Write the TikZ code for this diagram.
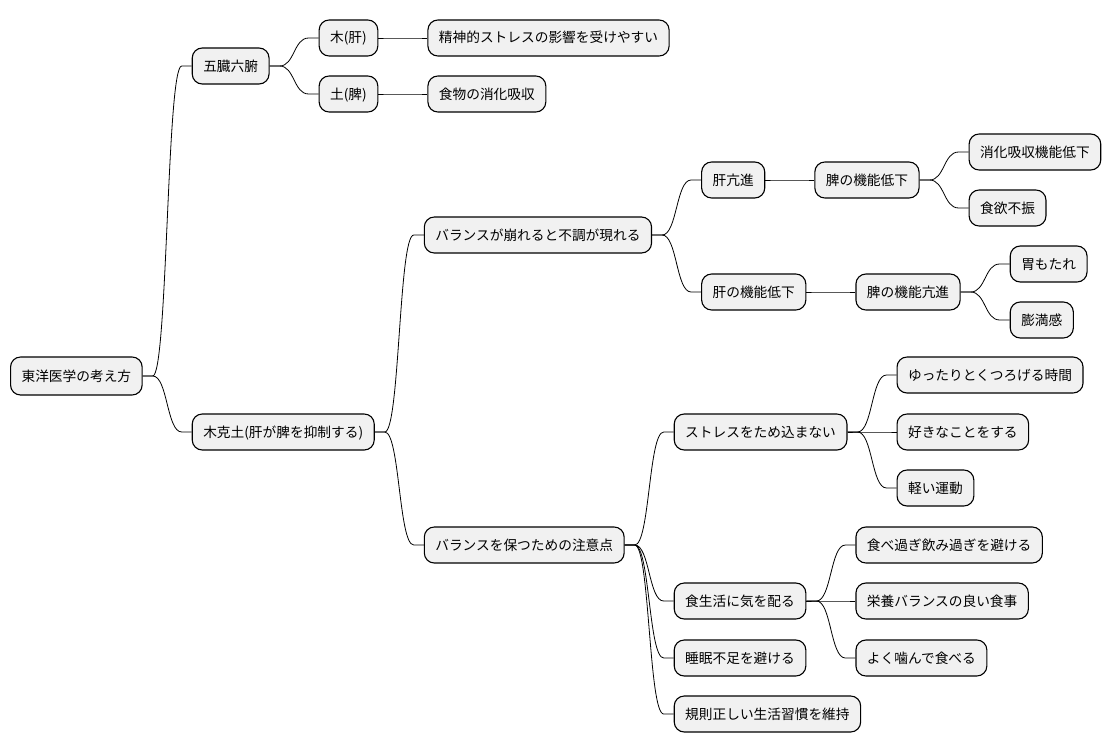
\documentclass[tikz,border=0pt]{standalone}
\usepackage{fontspec}
\setmainfont{Noto Sans CJK JP}
\usepackage{xcolor}
\usepackage{tikz}
\usetikzlibrary{positioning}
\definecolor{boxgray}{HTML}{F1F1F1}

\begin{document}
\begin{tikzpicture}[
    x=1pt, y=-1pt,
    node distance=49pt,
    block/.style={draw, fill=boxgray, line width=1.1pt, rounded corners=10pt, minimum height=36pt, inner xsep=11pt, text height=12pt, text depth=2pt, font=\fontsize{13.7}{16}\selectfont},
    branch/.style={line width=0.8pt, to path={(\tikztostart.east) -- ++(10pt,0pt) .. controls +(15pt,0pt) and +(-15pt,0pt) .. ([xshift=-10pt]\tikztotarget.west) -- (\tikztotarget.west)}}
]
\useasboundingbox (0,0) rectangle (1115,752);

\node[block, anchor=west, minimum height=38pt] (root) at (10,376) {東洋医学の考え方};

% 五臓六腑
\node[block, right=of root, yshift=310pt] (gozo) {五臓六腑};
\node[block, right=of gozo, yshift=28pt] (moku) {木(肝)};
\node[block, right=of gozo, yshift=-28pt] (do) {土(脾)};
\node[block, right=of moku] (seishin) {精神的ストレスの影響を受けやすい};
\node[block, right=of do] (shoka) {食物の消化吸収};

% 木克土
\node[block, right=of root, yshift=-56pt] (mokkoku) {木克土(肝が脾を抑制する)};
\node[block, right=of mokkoku, yshift=197pt] (kuzure) {バランスが崩れると不調が現れる};
\node[block, right=of kuzure, yshift=55pt] (kanko) {肝亢進};
\node[block, right=of kanko] (hitei) {脾の機能低下};
\node[block, right=of hitei, yshift=28pt] (kyushu) {消化吸収機能低下};
\node[block, right=of hitei, yshift=-28pt] (shokuyoku) {食欲不振};
\node[block, right=of kuzure, yshift=-57pt] (kantei) {肝の機能低下};
\node[block, right=of kantei] (hiko) {脾の機能亢進};
\node[block, right=of hiko, yshift=28pt] (imo) {胃もたれ};
\node[block, right=of hiko, yshift=-28pt] (boman) {膨満感};

\node[block, right=of mokkoku, yshift=-113pt] (tamotsu) {バランスを保つための注意点};
\node[block, right=of tamotsu, yshift=113pt] (stress) {ストレスをため込まない};
\node[block, right=of stress, yshift=57pt] (yuttari) {ゆったりとくつろげる時間};
\node[block, right=of stress] (suki) {好きなことをする};
\node[block, right=of stress, yshift=-56pt] (undo) {軽い運動};
\node[block, right=of tamotsu, yshift=-56pt] (shoku) {食生活に気を配る};
\node[block, right=of shoku, yshift=56pt] (tabesugi) {食べ過ぎ飲み過ぎを避ける};
\node[block, right=of shoku] (eiyo) {栄養バランスの良い食事};
\node[block, right=of shoku, yshift=-57pt] (kamu) {よく噛んで食べる};
\node[block, right=of tamotsu, yshift=-113pt] (suimin) {睡眠不足を避ける};
\node[block, right=of tamotsu, yshift=-169pt] (kisoku) {規則正しい生活習慣を維持};

\draw[branch] (root) to (gozo);
\draw[branch] (gozo) to (moku);
\draw[branch] (gozo) to (do);
\draw[branch] (moku) to (seishin);
\draw[branch] (do) to (shoka);
\draw[branch] (root) to (mokkoku);
\draw[branch] (mokkoku) to (kuzure);
\draw[branch] (kuzure) to (kanko);
\draw[branch] (kanko) to (hitei);
\draw[branch] (hitei) to (kyushu);
\draw[branch] (hitei) to (shokuyoku);
\draw[branch] (kuzure) to (kantei);
\draw[branch] (kantei) to (hiko);
\draw[branch] (hiko) to (imo);
\draw[branch] (hiko) to (boman);
\draw[branch] (mokkoku) to (tamotsu);
\draw[branch] (tamotsu) to (stress);
\draw[branch] (stress) to (yuttari);
\draw[branch] (stress) to (suki);
\draw[branch] (stress) to (undo);
\draw[branch] (tamotsu) to (shoku);
\draw[branch] (shoku) to (tabesugi);
\draw[branch] (shoku) to (eiyo);
\draw[branch] (shoku) to (kamu);
\draw[branch] (tamotsu) to (suimin);
\draw[branch] (tamotsu) to (kisoku);
\end{tikzpicture}
\end{document}
